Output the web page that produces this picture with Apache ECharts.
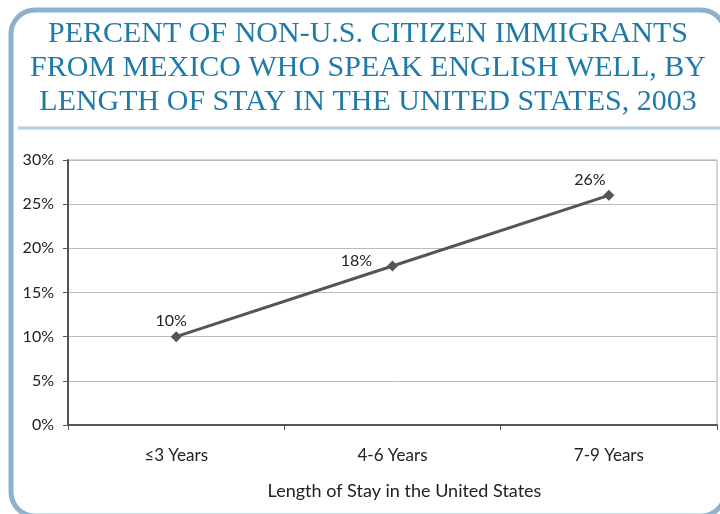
<!DOCTYPE html>
<html><head><meta charset="utf-8">
<script src="https://cdn.jsdelivr.net/npm/echarts@6/dist/echarts.min.js"></script>
<style>html,body{margin:0;padding:0;background:#fff}#c{width:720px;height:514px}</style>
</head><body><div id="c"></div>
<script>
var titleLines = ['PERCENT OF NON-U.S. CITIZEN IMMIGRANTS','FROM MEXICO WHO SPEAK ENGLISH WELL, BY','LENGTH OF STAY IN THE UNITED STATES, 2003'];
var categories = ['\u22643 Years','4-6 Years','7-9 Years'];
var values = [10, 18, 26];
var xAxisName = 'Length of Stay in the United States';

// label placement (style only, not data)
var labelOffsets = [[-5,-16],[-36,-5],[-19,-15]];

var seriesData = values.map(function(v,i){
  return {value:v, label:{offset:labelOffsets[i]}};
});

var chart = echarts.init(document.getElementById('c'));
chart.setOption({
  animation:false,
  backgroundColor:'#fff',
  title:{
    text: titleLines.join('\n'),
    left: 368, top: 17, textAlign:'center', padding:0,
    textStyle:{fontFamily:'Liberation Serif', fontWeight:'normal', fontSize:30, lineHeight:34, color:'#1f7ba6'}
  },
  graphic:[
    {type:'rect', shape:{x:11, y:10, width:714, height:506, r:24}, style:{fill:'none', stroke:'#8db2d0', lineWidth:5}, silent:true, z:-1},
    {type:'line', shape:{x1:18, y1:128, x2:720, y2:128}, style:{stroke:'#b5cfe4', lineWidth:3}, silent:true}
  ],
  grid:{left:68, right:3, top:160, bottom:89, show:true, borderColor:'#aaa', borderWidth:1, containLabel:false},
  xAxis:{
    type:'category', data:categories, boundaryGap:true,
    name:xAxisName, nameLocation:'middle', nameGap:57,
    nameTextStyle:{fontFamily:'Lato', fontSize:18, color:'#222', padding:[0,0,0,24]},
    axisLine:{lineStyle:{color:'#555', width:2}},
    axisTick:{show:true, length:5, lineStyle:{color:'#555'}},
    axisLabel:{fontFamily:'Lato', fontSize:17, color:'#222', margin:22}
  },
  yAxis:{
    type:'value', min:0, max:30, interval:5,
    axisLine:{show:true, lineStyle:{color:'#555', width:2}},
    axisTick:{show:true, length:5, lineStyle:{color:'#555'}},
    axisLabel:{fontFamily:'Lato', fontSize:16, color:'#222', margin:14, formatter:'{value}%'},
    splitLine:{lineStyle:{color:'#bbb', width:1}}
  },
  series:[{
    type:'line', data:seriesData,
    lineStyle:{color:'#555', width:3},
    itemStyle:{color:'#555'},
    symbol:'diamond', symbolSize:11,
    label:{show:true, position:'inside', formatter:'{c}%', fontFamily:'Lato', fontSize:16, color:'#222', textBorderWidth:0}
  }]
});
</script></body></html>
